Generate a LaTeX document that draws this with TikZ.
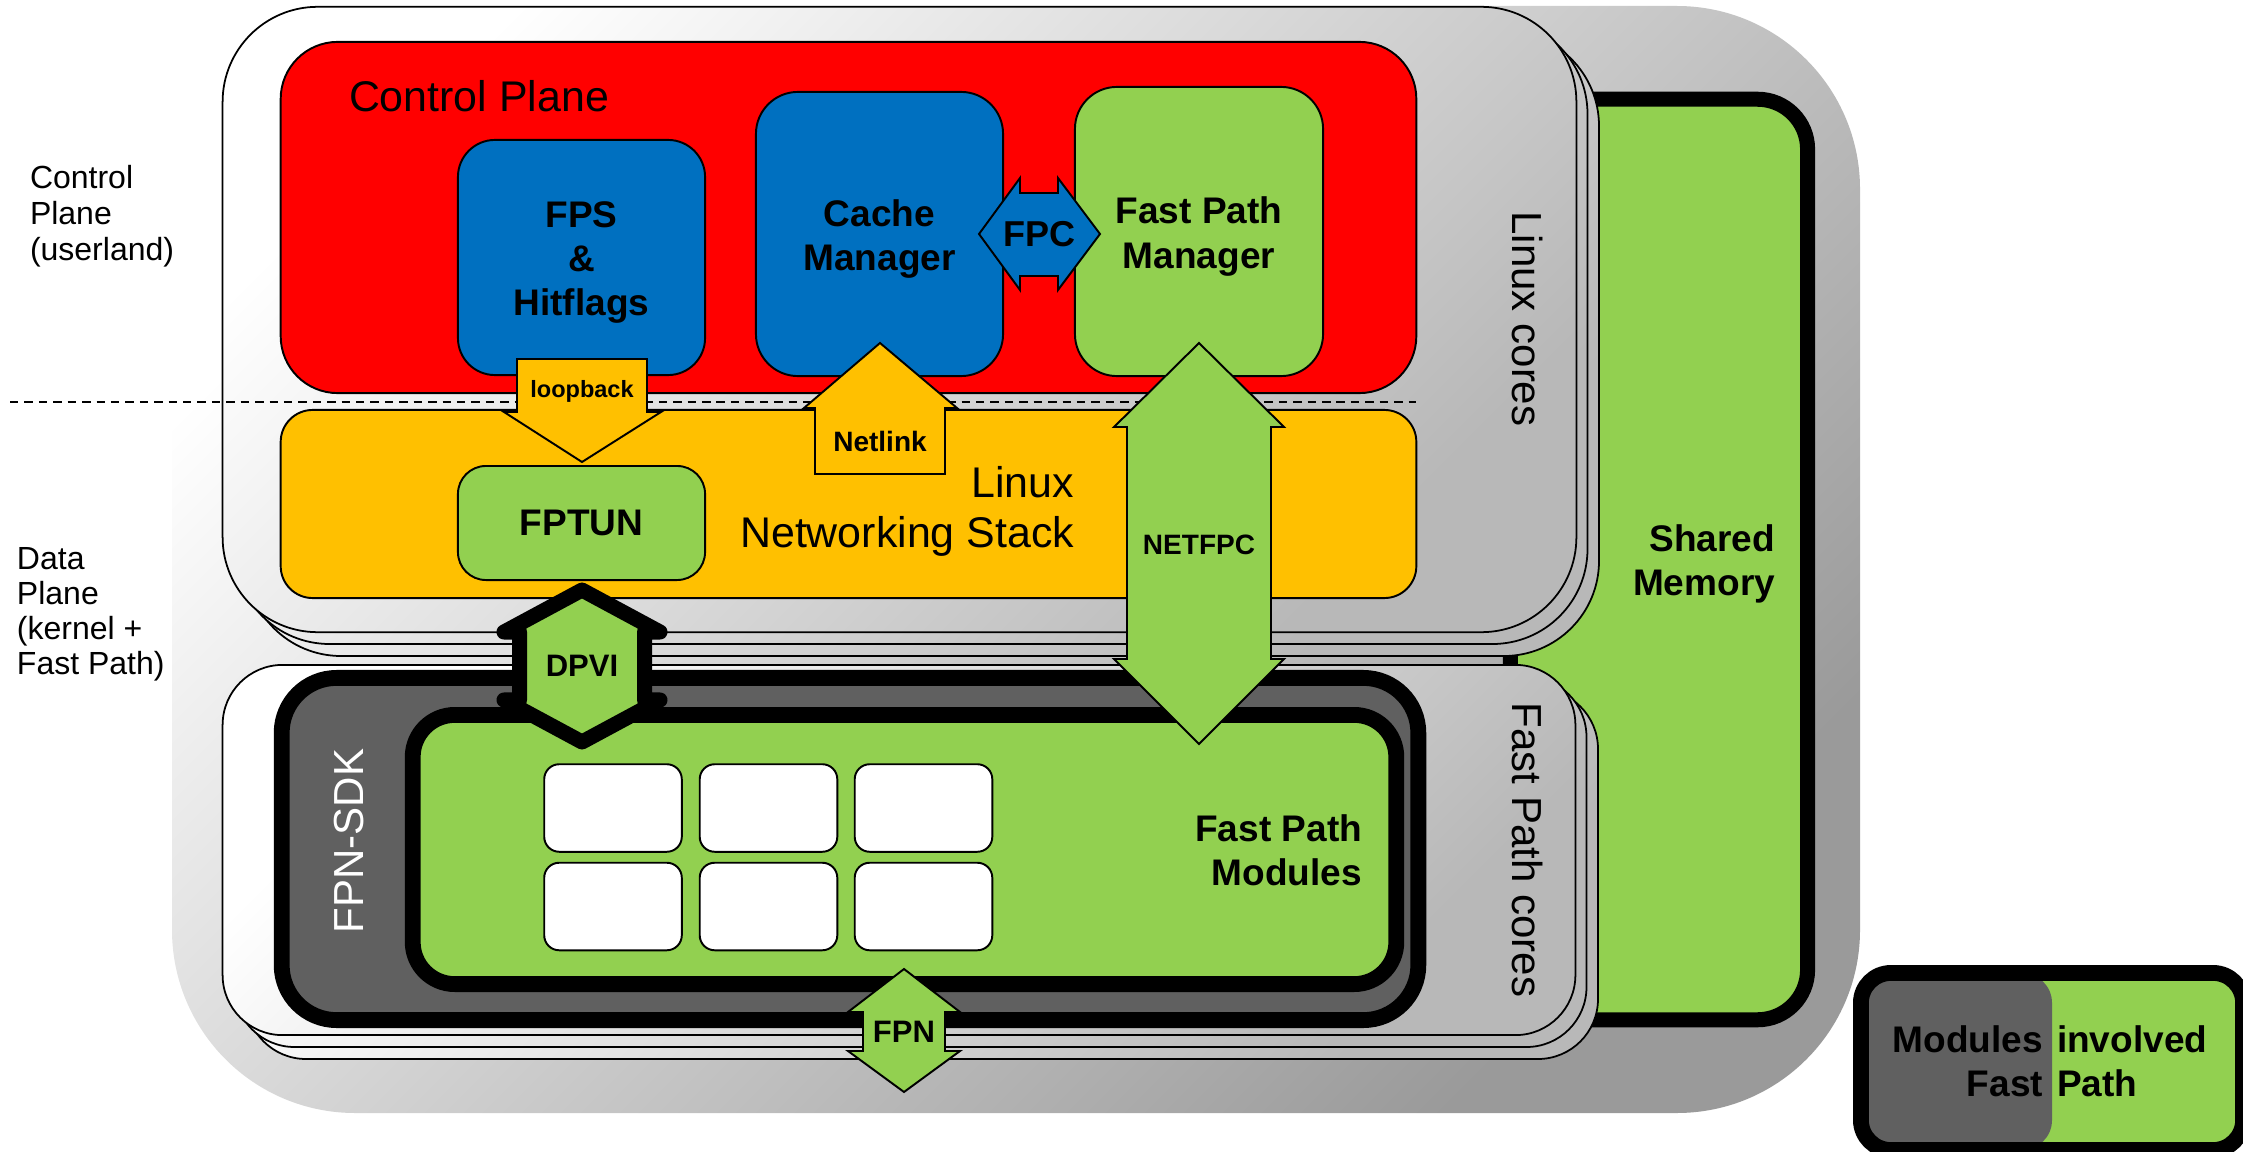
\documentclass[tikz,border=0pt]{standalone}
\usepackage{fontspec}
\setmainfont{Liberation Sans}
\usetikzlibrary{calc}

\definecolor{cpred}{HTML}{FF0000}
\definecolor{cpblue}{HTML}{0070C0}
\definecolor{fpgreen}{HTML}{92D050}
\definecolor{lnxorange}{HTML}{FFC000}
\definecolor{sdkgrey}{HTML}{606060}
\definecolor{cardgrey}{HTML}{B8B8B8}
\definecolor{bgmid}{HTML}{DADADA}
\definecolor{bgdark}{HTML}{9A9A9A}

% font sizes (1 unit = 0.01cm)
\newcommand{\fBox}{\bfseries\fontsize{10.53pt}{12.52pt}\selectfont}
\newcommand{\fTitle}{\fontsize{12.2pt}{14.2pt}\selectfont}
\newcommand{\fCores}{\fontsize{11.95pt}{14pt}\selectfont}
\newcommand{\fSide}{\fontsize{9.1pt}{10.24pt}\selectfont}
\newcommand{\fSideB}{\fontsize{9.1pt}{9.96pt}\selectfont}
\newcommand{\fFPC}{\bfseries\fontsize{10.24pt}{12pt}\selectfont}
\newcommand{\fMid}{\bfseries\fontsize{8.82pt}{10pt}\selectfont}
\newcommand{\fSmall}{\bfseries\fontsize{7.97pt}{9pt}\selectfont}
\newcommand{\fTiny}{\bfseries\fontsize{6.69pt}{8pt}\selectfont}

\begin{document}
\begin{tikzpicture}[x=0.01cm, y=-0.01cm,
  every node/.style={inner sep=0pt, outer sep=0pt},
  thin outline/.style={draw=black, line width=0.5pt},
  card/.style={thin outline, top color=white, bottom color=cardgrey, shading angle=45},
  softbox/.style={draw=black, line width=0.55pt},
  heavybox/.style={draw=black, line width=4.5pt},
  blockarrow/.style={draw=black, line width=0.55pt, line join=miter},
  planeline/.style={line width=0.6pt, dash pattern=on 2.4pt off 1.7pt},
  boxtext/.style={font=\fBox, align=center, text=black}]

\useasboundingbox (0,0) rectangle (2243,1152);

% platform background
\path[top color=white, middle color=bgmid, bottom color=bgdark, shading angle=45,
      rounded corners=1.83cm] (172,6) rectangle (1860,1113);

% shared memory
\node[heavybox, line width=4.27pt, fill=fpgreen, rounded corners=0.5cm,
      minimum width=2.97cm, minimum height=9.2cm] (shm) at (1659,559.5) {};

% Linux cores stack
\foreach \d in {2,1}
  \path[card, rounded corners=0.95cm] (223+11.5*\d,7+12*\d) rectangle (1576+11.5*\d,632+12*\d);
\node[card, rounded corners=0.95cm, minimum width=13.53cm, minimum height=6.25cm] (linuxcores) at (899.5,319.5) {};

% Fast Path cores stack
\foreach \d in {2,1}
  \path[card, rounded corners=0.6cm] (223+11.5*\d,665+12*\d) rectangle (1575+11.5*\d,1035+12*\d);
\node[card, rounded corners=0.6cm, minimum width=13.52cm, minimum height=3.7cm] (fpcores) at (899,850) {};

% control plane and its daemons
\node[softbox, fill=cpred, rounded corners=0.57cm, minimum width=11.35cm, minimum height=3.51cm] (cplane) at (848.5,217.5) {};
\node[softbox, fill=cpblue, rounded corners=0.37cm, minimum width=2.47cm, minimum height=2.35cm] (fps) at (581.5,257.5) {};
\node[softbox, fill=cpblue, rounded corners=0.42cm, minimum width=2.47cm, minimum height=2.84cm] (cachemgr) at (879.5,234) {};
\node[softbox, fill=fpgreen, rounded corners=0.42cm, minimum width=2.48cm, minimum height=2.89cm] (fpmgr) at (1199,231.5) {};
\node[boxtext] (lbl-fps) at ($(fps)+(0,5)$) {FPS\\\&\\Hitflags};
\node[boxtext] (lbl-cache) at ($(cachemgr)+(0,5)$) {Cache\\Manager};
\node[boxtext] (lbl-fpmgr) at ($(fpmgr)+(0,5)$) {Fast Path\\Manager};

% Linux networking stack
\node[softbox, fill=lnxorange, rounded corners=0.32cm, minimum width=11.35cm, minimum height=1.88cm] (netstack) at (848.5,504) {};
\node[softbox, fill=fpgreen, rounded corners=0.28cm, minimum width=2.47cm, minimum height=1.14cm, boxtext] (fptun) at (581.5,523) {FPTUN};

% userland / kernel boundary
\coordinate (boundaryL) at (10,402);
\coordinate (boundaryR) at (1416,402);
\draw[planeline] (boundaryL) -- (boundaryR);

% FPN-SDK and fast path modules
\node[heavybox, fill=sdkgrey, rounded corners=0.55cm, minimum width=11.36cm, minimum height=3.42cm] (fpnsdk) at (850,849) {};
\node[heavybox, fill=fpgreen, rounded corners=0.42cm, minimum width=9.83cm, minimum height=2.69cm] (fpmodules) at (904.5,849.5) {};
\foreach \c/\x in {1/613,2/768.5,3/923.5}
  \foreach \r/\y in {1/808,2/906.5}
    \node[softbox, fill=white, rounded corners=0.15cm, minimum width=1.375cm, minimum height=0.875cm] (mod\r\c) at (\x,\y) {};

% loopback: FPS -> FPTUN
\draw[blockarrow, fill=lnxorange] (517,359) -- (647,359) -- (647,412) -- (661,412) -- (582,462)
  -- (504,412) -- (517,412) -- cycle;
% Netlink: stack -> cache manager
\draw[blockarrow, fill=lnxorange] (880,343) -- (957,408) -- (945,408) -- (945,474) -- (815,474)
  -- (815,408) -- (804,408) -- cycle;
% FPC: cache manager <-> fast path manager
\draw[blockarrow, fill=cpblue] (979,234) -- (1020,178) -- (1020,193) -- (1058,193) -- (1058,178)
  -- (1100,234) -- (1058,290) -- (1058,276) -- (1020,276) -- (1020,290) -- cycle;
% NETFPC: fast path manager <-> fast path modules
\draw[blockarrow, fill=fpgreen] (1199,343) -- (1284,427) -- (1271,427) -- (1271,659) -- (1284,659)
  -- (1199,744) -- (1114,659) -- (1127,659) -- (1127,427) -- (1114,427) -- cycle;
% DPVI: FPTUN <-> fast path modules
\draw[draw=black, line width=4.27pt, line join=round, fill=fpgreen] (582,590) -- (660,632) -- (644.5,632)
  -- (644.5,700) -- (660,700) -- (582,742) -- (504,700) -- (519.5,700) -- (519.5,632) -- (504,632) -- cycle;
% FPN: fast path modules <-> outside
\draw[blockarrow, fill=fpgreen] (904,969) -- (960,1012) -- (945,1012) -- (945,1051) -- (960,1051)
  -- (904,1092) -- (848,1051) -- (863,1051) -- (863,1012) -- (848,1012) -- cycle;

% arrow labels
\node[font=\fTiny] (lbl-loopback) at (582,391) {loopback};
\node[font=\fSmall] (lbl-netlink) at (880,441) {Netlink};
\node[font=\fFPC] (lbl-fpc) at (1039,234) {FPC};
\node[font=\fSmall] (lbl-netfpc) at (1199,545) {NETFPC};
\node[font=\fMid] (lbl-dpvi) at (582,666) {DPVI};
\node[font=\fMid] (lbl-fpn) at (904,1032) {FPN};

% area titles
\node[font=\fTitle, anchor=base west] (lbl-cplane) at (349,112) {Control Plane};
\node[font=\fTitle, align=right, anchor=east] (lbl-netstack) at (1074,511.5) {Linux\\Networking Stack};
\node[font=\fBox, align=right, anchor=east] (lbl-fpmod) at (1362,850) {Fast Path\\Modules};
\node[font=\fBox, align=right, anchor=east] (lbl-shm) at (1775,564) {Shared\\Memory};
\node[font=\fCores, rotate=-90] (lbl-lcores) at (1527,319) {Linux cores};
\node[font=\fCores, rotate=-90] (lbl-fcores) at (1527,850) {Fast Path cores};
\node[font=\fCores, rotate=90, text=white] (lbl-sdk) at (349,841) {FPN-SDK};

% plane labels
\node[font=\fSide, align=left, anchor=west] (lbl-userland) at (30,216.5) {Control\\Plane\\(userland)};
\node[font=\fSideB, align=left, anchor=west] (lbl-kernel) at (17,614.5) {Data\\Plane\\(kernel +\\Fast Path)};

% legend
\node[heavybox, fill=fpgreen, rounded corners=0.3cm, minimum width=3.82cm, minimum height=1.77cm,
      path picture={\fill[sdkgrey] (path picture bounding box.south west) rectangle (path picture bounding box.north);}]
      (legend) at (2052,1061.5) {};
\node[font=\fBox, align=right, anchor=east] (legend-l) at (2043,1061) {Modules\\Fast};
\node[font=\fBox, align=left, anchor=west] (legend-r) at (2057,1061) {involved\\Path};

\end{tikzpicture}
\end{document}
